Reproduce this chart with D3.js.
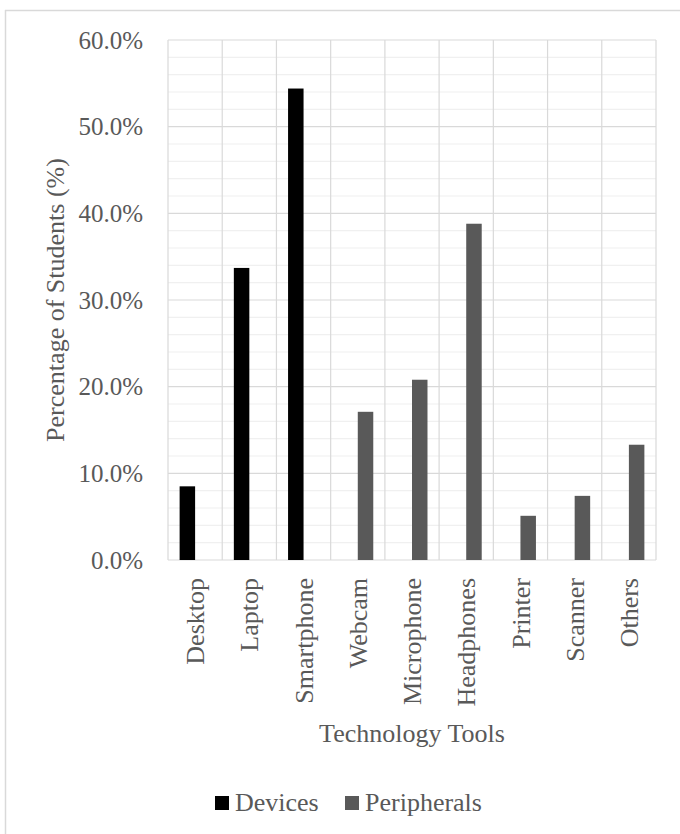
<!DOCTYPE html>
<html>
<head>
<meta charset="utf-8">
<script src="https://cdn.jsdelivr.net/npm/d3@7"></script>
<style>
  body { margin: 0; background: #fff; }
</style>
</head>
<body>
<svg id="chart"></svg>
<script>
const categories = ["Desktop", "Laptop", "Smartphone", "Webcam", "Microphone", "Headphones", "Printer", "Scanner", "Others"];
const seriesNames = ["Devices", "Peripherals"];
const devices = [8.5, 33.7, 54.4, 0, 0, 0, 0, 0, 0];
const peripherals = [0, 0, 0, 17.1, 20.8, 38.8, 5.1, 7.4, 13.3];
const yTicks = [0, 10, 20, 30, 40, 50, 60];
const colors = ["#000000", "#595959"];

const FONT = "'Liberation Serif', 'Times New Roman', serif";
const W = 680, H = 834;
const margin = { top: 40, right: 24, bottom: 274, left: 168 };
const width = W - margin.left - margin.right;
const height = H - margin.top - margin.bottom;

const svg = d3.select("#chart").attr("width", W).attr("height", H);

// chart border
svg.append("line").attr("x1", 5).attr("x2", W).attr("y1", 10.5).attr("y2", 10.5)
  .attr("stroke", "#d9d9d9").attr("stroke-width", 1.5);
svg.append("line").attr("x1", 5.5).attr("x2", 5.5).attr("y1", 10).attr("y2", H)
  .attr("stroke", "#d9d9d9").attr("stroke-width", 1.5);

const g = svg.append("g").attr("transform", `translate(${margin.left},${margin.top})`);

const x = d3.scaleBand().domain(categories).range([0, width]).paddingInner(0).paddingOuter(0);
const y = d3.scaleLinear().domain([0, 60]).range([height, 0]);
const inner = d3.scaleBand().domain(seriesNames)
  .range([0, x.bandwidth()]).paddingInner(0).paddingOuter(0.75);

// minor gridlines every 2%
g.append("g").selectAll("line")
  .data(d3.range(0, 61, 2).filter(v => v % 10 !== 0))
  .join("line")
  .attr("x1", 0).attr("x2", width)
  .attr("y1", d => y(d)).attr("y2", d => y(d))
  .attr("stroke", "#f0f0f0").attr("stroke-width", 1.2);

// vertical gridlines at category boundaries
g.append("g").selectAll("line")
  .data(d3.range(categories.length + 1))
  .join("line")
  .attr("x1", i => i * x.step()).attr("x2", i => i * x.step())
  .attr("y1", 0).attr("y2", height)
  .attr("stroke", "#d9d9d9").attr("stroke-width", 1.2);

// major gridlines
g.append("g").selectAll("line")
  .data(yTicks)
  .join("line")
  .attr("x1", 0).attr("x2", width)
  .attr("y1", d => y(d)).attr("y2", d => y(d))
  .attr("stroke", "#d9d9d9").attr("stroke-width", 1.2);

// y tick labels
const yAxis = d3.axisLeft(y).tickValues(yTicks).tickSize(0).tickPadding(25)
  .tickFormat(d => d.toFixed(1) + "%");
g.append("g").call(yAxis)
  .call(s => s.select(".domain").remove())
  .selectAll("text")
  .style("font-family", FONT).style("font-size", "25px").attr("fill", "#595959");

// bars
const rows = categories.map((c, i) => ({ cat: c, values: [devices[i], peripherals[i]] }));
const groups = g.append("g").selectAll("g")
  .data(rows)
  .join("g")
  .attr("transform", d => `translate(${x(d.cat)},0)`);
groups.selectAll("rect")
  .data(d => d.values.map((v, j) => ({ name: seriesNames[j], v, j })).filter(e => e.v > 0))
  .join("rect")
  .attr("x", d => inner(d.name))
  .attr("width", inner.bandwidth())
  .attr("y", d => y(d.v))
  .attr("height", d => y(0) - y(d.v))
  .attr("fill", d => colors[d.j]);

// category labels
g.append("g").selectAll("text")
  .data(categories)
  .join("text")
  .attr("transform", d => `translate(${x(d) + x.bandwidth() / 2},${height + 18}) rotate(-90)`)
  .attr("text-anchor", "end")
  .attr("dy", "0.35em")
  .attr("fill", "#595959")
  .style("font-family", FONT).style("font-size", "26px")
  .text(d => d);

// axis titles
g.append("text")
  .attr("x", width / 2).attr("y", 702)
  .attr("text-anchor", "middle")
  .attr("fill", "#595959")
  .style("font-family", FONT).style("font-size", "26px")
  .text("Technology Tools");

svg.append("text")
  .attr("transform", `translate(64,${margin.top + height / 2}) rotate(-90)`)
  .attr("text-anchor", "middle")
  .attr("fill", "#595959")
  .style("font-family", FONT).style("font-size", "26px")
  .text("Percentage of Students (%)");

// legend
const legendX = [215, 345];
const legend = svg.append("g").selectAll("g")
  .data(seriesNames)
  .join("g")
  .attr("transform", (d, i) => `translate(${legendX[i]},796)`);
legend.append("rect").attr("width", 14).attr("height", 14).attr("fill", (d, i) => colors[i]);
legend.append("text").attr("x", 20).attr("y", 15)
  .attr("fill", "#595959")
  .style("font-family", FONT).style("font-size", "26px")
  .text(d => d);
</script>
</body>
</html>
